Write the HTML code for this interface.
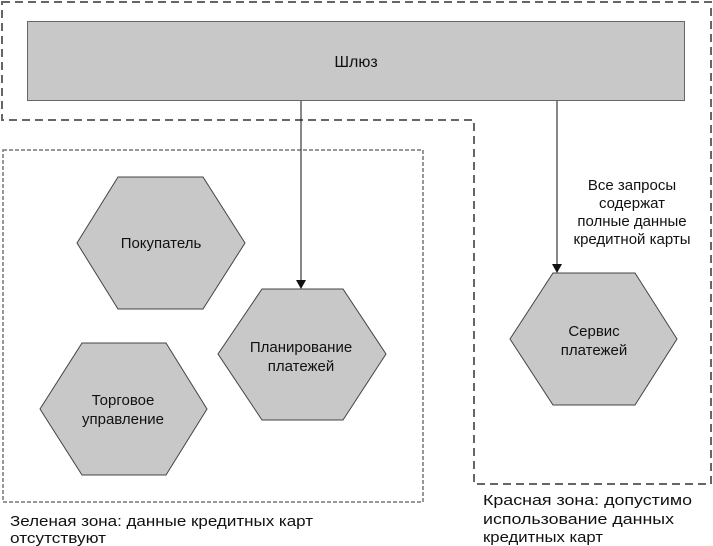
<!DOCTYPE html>
<html><head><meta charset="utf-8"><style>
html,body{margin:0;padding:0;background:#fff;}
svg{display:block;}
text{font-family:"Liberation Sans",sans-serif;font-size:15px;fill:#111;}
</style></head><body>
<svg width="713" height="546" viewBox="0 0 713 546" xmlns="http://www.w3.org/2000/svg">
<!-- red zone -->
<path d="M2,2 L711,2 L711,484 L474,484 L474,120 L2,120 Z" fill="none" stroke="#666" stroke-width="2" stroke-dasharray="8,5"/>
<!-- green zone -->
<rect x="3" y="150" width="420" height="352" fill="none" stroke="#777" stroke-width="1.5" stroke-dasharray="4,2"/>
<!-- gateway -->
<rect x="27.5" y="21.5" width="657" height="79" fill="#c8c8c8" stroke="#666" stroke-width="1"/>
<text x="356" y="67" text-anchor="middle" style="font-size:16px">Шлюз</text>
<!-- arrows -->
<line x1="301" y1="101" x2="301" y2="281" stroke="#111" stroke-width="1"/>
<polygon points="296,280 306,280 301,289" fill="#111"/>
<line x1="557" y1="101" x2="557" y2="265" stroke="#111" stroke-width="1"/>
<polygon points="552,264 562,264 557,273" fill="#111"/>
<!-- hexagons -->
<polygon points="118,177 203,177 245,243 203,309 118,309 77,243" fill="#c8c8c8" stroke="#444" stroke-width="1"/>
<text x="161" y="248" text-anchor="middle">Покупатель</text>
<polygon points="82,343 166,343 207,409 166,475 82,475 40,409" fill="#c8c8c8" stroke="#444" stroke-width="1"/>
<text x="123" y="405" text-anchor="middle">Торговое</text>
<text x="123" y="424" text-anchor="middle">управление</text>
<polygon points="262,289 343,289 386,354 343,420 262,420 218,354" fill="#c8c8c8" stroke="#444" stroke-width="1"/>
<text x="301" y="352" text-anchor="middle">Планирование</text>
<text x="301" y="371" text-anchor="middle">платежей</text>
<polygon points="553,273 635,273 677,339 635,405 553,405 510,339" fill="#c8c8c8" stroke="#444" stroke-width="1"/>
<text x="594" y="336" text-anchor="middle">Сервис</text>
<text x="594" y="355" text-anchor="middle">платежей</text>
<!-- labels -->
<text x="632" y="190" text-anchor="middle">Все запросы</text>
<text x="632" y="208" text-anchor="middle">содержат</text>
<text x="632" y="226" text-anchor="middle">полные данные</text>
<text x="632" y="244" text-anchor="middle">кредитной карты</text>
<g style="font-size:16px">
<text x="10" y="526" textLength="303" lengthAdjust="spacingAndGlyphs">Зеленая зона: данные кредитных карт</text>
<text x="10" y="543" textLength="96" lengthAdjust="spacingAndGlyphs">отсутствуют</text>
<text x="483" y="505" textLength="209" lengthAdjust="spacingAndGlyphs">Красная зона: допустимо</text>
<text x="483" y="524" textLength="191" lengthAdjust="spacingAndGlyphs">использование данных</text>
<text x="483" y="542" textLength="120" lengthAdjust="spacingAndGlyphs">кредитных карт</text>
</g>
</svg>
</body></html>
